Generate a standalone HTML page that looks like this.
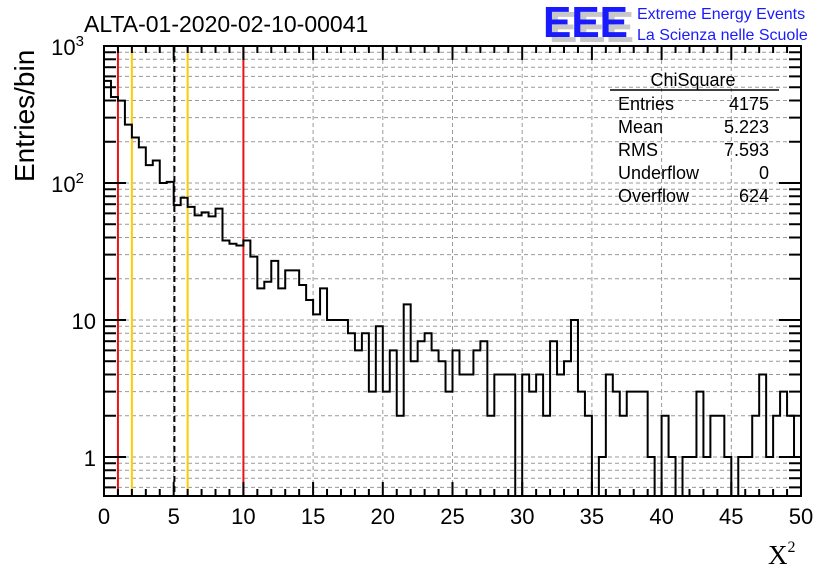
<!DOCTYPE html>
<html><head><meta charset="utf-8"><style>
body{margin:0;background:#fff}
svg{display:block;font-family:"Liberation Sans",Arial,sans-serif}
</style></head><body>
<svg id="chart" width="836" height="572" viewBox="0 0 836 572" xmlns="http://www.w3.org/2000/svg">
<rect width="836" height="572" fill="#fff"/>
<g id="grid"></g>
<g id="lines"></g>
<path id="hist" fill="none" stroke="#000" stroke-width="2"/>
<rect x="104" y="46" width="697" height="450" fill="none" stroke="#000" stroke-width="2"/>
<g id="ticks"></g>
<text x="84" y="32" font-size="23">ALTA-01-2020-02-10-00041</text>
<text transform="translate(34,182) rotate(-90)" font-size="28">Entries/bin</text>
<text x="768" y="564" font-size="27" font-family="Liberation Serif,serif">X<tspan font-size="16" dy="-12">2</tspan></text>
<g>
<text x="549" y="42" font-size="44" font-weight="bold" fill="#c8c8c8" textLength="85" lengthAdjust="spacingAndGlyphs">EEE</text>
<text x="543" y="37" font-size="44" font-weight="bold" fill="#1a1aff" textLength="85" lengthAdjust="spacingAndGlyphs">EEE</text>
<text x="637" y="19" font-size="16" fill="#1a1aff">Extreme Energy Events</text>
<text x="637" y="40" font-size="16" fill="#1a1aff">La Scienza nelle Scuole</text>
</g>
<g font-size="18">
<text x="693" y="86" text-anchor="middle">ChiSquare</text>
<line x1="610" y1="90" x2="779" y2="90" stroke="#000" stroke-width="1.5"/>
<text x="618" y="110">Entries</text><text x="769" y="110" text-anchor="end">4175</text>
<text x="618" y="133">Mean</text><text x="769" y="133" text-anchor="end">5.223</text>
<text x="618" y="156">RMS</text><text x="769" y="156" text-anchor="end">7.593</text>
<text x="618" y="179">Underflow</text><text x="769" y="179" text-anchor="end">0</text>
<text x="618" y="202">Overflow</text><text x="769" y="202" text-anchor="end">624</text>
</g>
</svg>
<script>
const binCounts = [556,424,399,267,215,182,135,146,100,102,69,78,67,58,61,57,65,38,36,35,
38,29,17,19,27,17,23,23,18,14,11,17,10,10,10,8,6,8,3,9,
3,6,2,13,5,7,8,6,5,3,6,4,4,6,7,2,4,4,4,0,
4,3,4,2,7,4,5,10,3,2,0,1,4,3,2,3,3,3,1,0,
2,1,0,1,1,3,1,2,2,1,0,1,1,2,4,1,2,3,2,1];
const xTickLabels = [0,5,10,15,20,25,30,35,40,45,50];
const yDecades = [1,10,100,1000];
const refRed = [1,10];
const refYellow = [2,6];
const refBlack = [5.05];
const binWidth = 0.5;

const X0=104,X1=801,Y0=496,Y1=46,XMIN=0,XMAX=50,YMIN=0.519,YMAX=1000;
const ns="http://www.w3.org/2000/svg";
function xs(v){return X0+(v-XMIN)/(XMAX-XMIN)*(X1-X0);}
function ys(v){if(v<=YMIN)return Y0;return Y0-(Math.log10(v)-Math.log10(YMIN))/(Math.log10(YMAX)-Math.log10(YMIN))*(Y0-Y1);}
function mk(tag,attrs,parent){const e=document.createElementNS(ns,tag);for(const k in attrs)e.setAttribute(k,attrs[k]);parent.appendChild(e);return e;}
const grid=document.getElementById('grid'),ticks=document.getElementById('ticks'),lines=document.getElementById('lines');
xTickLabels.forEach(v=>{if(v>XMIN&&v<XMAX){const l=mk('line',{x1:xs(v),x2:xs(v),y1:Y1,y2:Y0,stroke:'#999','stroke-dasharray':'4,3','stroke-width':1},grid);

}});
const yMinor=[0.6,0.7,0.8,0.9];yDecades.forEach(dd=>{for(let m=1;m<=9;m++)yMinor.push(dd*m);});
yMinor.forEach(v=>{if(v<=YMIN||v>=YMAX)return;const l=mk('line',{x1:X0,x2:X1,y1:ys(v),y2:ys(v),stroke:'#999','stroke-dasharray':'4,3','stroke-width':1},grid);

});
function vline(v,c,dash,name){const l=mk('line',{x1:xs(v),x2:xs(v),y1:Y1,y2:Y0,stroke:c,'stroke-width':2},lines);if(dash)l.setAttribute('stroke-dasharray',dash);

}
refRed.forEach(v=>vline(v,'#ee1111',null,'red-cut-line'));
refYellow.forEach(v=>vline(v,'#ffcc00',null,'yellow-cut-line'));
refBlack.forEach(v=>vline(v,'#000','6,4','mean-dashed-line'));
let d='M'+xs(0)+','+Y0;
binCounts.forEach((c,i)=>{const y=ys(c);d+=' L'+xs(i*binWidth)+','+y+' L'+xs((i+1)*binWidth)+','+y;});
d+=' L'+xs(binCounts.length*binWidth)+','+Y0;
document.getElementById('hist').setAttribute('d',d);
for(let v=XMIN;v<=XMAX;v++){const major=v%5===0;const h=major?14:7;
const a=mk('line',{x1:xs(v),x2:xs(v),y1:Y0,y2:Y0-h,stroke:'#000','stroke-width':2},ticks);


const b=mk('line',{x1:xs(v),x2:xs(v),y1:Y1,y2:Y1+h,stroke:'#000','stroke-width':2},ticks);

}
xTickLabels.forEach(v=>{const t=mk('text',{x:xs(v),y:524,'font-size':22,'text-anchor':'middle'},ticks);t.textContent=v;

});
yMinor.forEach(v=>{if(v<YMIN||v>YMAX)return;const major=yDecades.includes(v);const w=major?22:12;
const a=mk('line',{x1:X0,x2:X0+w,y1:ys(v),y2:ys(v),stroke:'#000','stroke-width':2},ticks);


const b=mk('line',{x1:X1,x2:X1-w,y1:ys(v),y2:ys(v),stroke:'#000','stroke-width':2},ticks);

});
yDecades.forEach(v=>{const t=mk('text',{x:96,y:ys(v)+9,'font-size':22,'text-anchor':'end'},ticks);
if(v<100){t.textContent=String(v);}else{t.setAttribute('x',84);t.textContent='10';const s=mk('tspan',{dy:-9,'font-size':15},t);s.textContent=String(Math.round(Math.log10(v)));}

});
</script>
</body></html>
